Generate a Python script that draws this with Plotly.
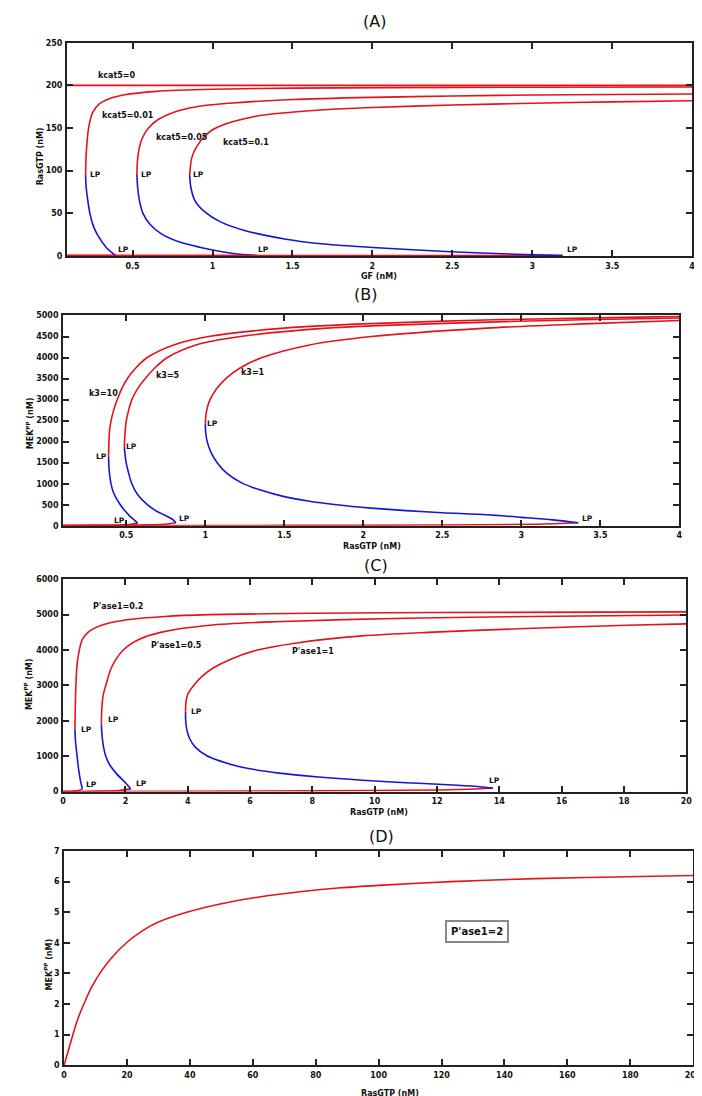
import plotly.graph_objects as go

W, H = 702, 1096
RED = '#e5121a'
BLUE = '#1515d6'
AX = '#222222'
FONT = 'DejaVu Sans'

# ---------------- Panel A data (GF vs RasGTP) ----------------
A_k0_x = [0.09, 4.0]
A_k0_y = [200, 200]

A_k001_up_x = [0.206, 0.21, 0.225, 0.25, 0.29, 0.35, 0.45, 0.65, 1.0, 1.5, 2.5, 4.0]
A_k001_up_y = [95, 120, 150, 168, 178, 184, 189, 193, 195.5, 196.8, 197.7, 198.2]
A_k001_un_x = [0.206, 0.21, 0.22, 0.233, 0.255, 0.28, 0.335, 0.37, 0.398]
A_k001_un_y = [95, 80, 65, 50, 35, 25, 10, 4, 0.5]
A_k001_lo_x = [0.09, 0.398]
A_k001_lo_y = [0.5, 0.5]

A_k005_up_x = [0.527, 0.53, 0.54, 0.56, 0.6, 0.66, 0.75, 0.9, 1.1, 1.5, 2.0, 2.5, 3.0, 4.0]
A_k005_up_y = [95, 110, 125, 138, 150, 160, 168, 175, 179, 183.5, 186, 187.5, 188.8, 190]
A_k005_un_x = [0.527, 0.532, 0.543, 0.565, 0.61, 0.68, 0.8, 0.926, 1.06, 1.17, 1.277]
A_k005_un_y = [95, 80, 65, 50, 37, 26, 16, 10, 5, 2, 0.5]
A_k005_lo_x = [0.09, 1.277]
A_k005_lo_y = [0.5, 0.5]

A_k01_up_x = [0.857, 0.87, 0.9, 0.95, 1.0, 1.1, 1.25, 1.4, 1.7, 2.0, 2.5, 3.0, 3.5, 4.0]
A_k01_up_y = [95, 115, 128, 140, 148, 156, 163, 167, 171.5, 174, 177, 179, 180.7, 182]
A_k01_un_x = [0.857, 0.865, 0.89, 0.95, 1.05, 1.2, 1.45, 1.7, 2.0, 2.49, 2.9, 3.19]
A_k01_un_y = [95, 80, 65, 52, 40, 30, 20, 14, 10, 5, 2, 0.5]
A_k01_lo_x = [0.09, 3.19]
A_k01_lo_y = [0.5, 0.5]

A_labels = ['kcat5=0', 'kcat5=0.01', 'kcat5=0.05', 'kcat5=0.1']

# ---------------- Panel B data (RasGTP vs MEKpp, k3) ----------------
B_k10_up_x = [0.388, 0.39, 0.395, 0.404, 0.42, 0.443, 0.47, 0.507, 0.56, 0.633, 0.8, 1.02, 1.5, 2.0, 2.83, 4.0]
B_k10_up_y = [1650, 2000, 2300, 2500, 2750, 3000, 3250, 3500, 3750, 4000, 4300, 4500, 4700, 4800, 4900, 4980]
B_k10_un_x = [0.388, 0.39, 0.395, 0.403, 0.416, 0.435, 0.46, 0.49, 0.515, 0.54, 0.558, 0.571]
B_k10_un_y = [1650, 1400, 1200, 1000, 820, 660, 510, 360, 260, 170, 110, 63]
B_k10_lo_x = [0.1, 0.3, 0.45, 0.53, 0.571]
B_k10_lo_y = [3, 8, 18, 35, 63]

B_k5_up_x = [0.488, 0.49, 0.5, 0.515, 0.535, 0.57, 0.62, 0.68, 0.76, 0.94, 1.22, 1.77, 2.41, 3.39, 4.0]
B_k5_up_y = [1850, 2100, 2500, 2750, 3000, 3250, 3500, 3750, 4000, 4300, 4500, 4700, 4800, 4900, 4940]
B_k5_un_x = [0.488, 0.492, 0.499, 0.515, 0.535, 0.57, 0.633, 0.69, 0.744, 0.79, 0.814]
B_k5_un_y = [1850, 1700, 1500, 1250, 1000, 750, 500, 350, 250, 160, 70]
B_k5_lo_x = [0.1, 0.4, 0.65, 0.76, 0.814]
B_k5_lo_y = [3, 8, 20, 40, 70]

B_k1_up_x = [1.0, 1.003, 1.012, 1.03, 1.07, 1.13, 1.22, 1.36, 1.66, 2.05, 2.78, 3.39, 4.0]
B_k1_up_y = [2425, 2600, 2800, 3000, 3250, 3500, 3750, 4000, 4300, 4500, 4700, 4800, 4880]
B_k1_un_x = [1.0, 1.003, 1.012, 1.035, 1.075, 1.135, 1.23, 1.34, 1.48, 1.65, 1.83, 2.05, 2.27, 2.5, 2.78, 3.0, 3.2, 3.36]
B_k1_un_y = [2425, 2200, 2000, 1750, 1500, 1250, 1020, 860, 710, 590, 500, 420, 360, 310, 260, 200, 140, 70]
B_k1_lo_x = [0.1, 1.5, 2.5, 3.1, 3.36]
B_k1_lo_y = [2, 8, 18, 35, 70]

B_labels = ['k3=10', 'k3=5', 'k3=1']

# ---------------- Panel C data (RasGTP vs MEKpp, P'ase1) ----------------
C_p02_up_x = [0.38, 0.39, 0.41, 0.45, 0.52, 0.62, 0.8, 1.23, 2.0, 3.27, 4.7, 8.0, 12.0, 20.0]
C_p02_up_y = [1760, 2300, 3000, 3600, 4000, 4300, 4500, 4700, 4850, 4950, 5000, 5040, 5060, 5080]
C_p02_un_x = [0.38, 0.4, 0.45, 0.48, 0.52, 0.57, 0.62]
C_p02_un_y = [1760, 1400, 1000, 750, 500, 250, 75]
C_p02_lo_x = [0.0, 0.3, 0.5, 0.62]
C_p02_lo_y = [0, 10, 30, 75]

C_p05_up_x = [1.23, 1.24, 1.28, 1.37, 1.55, 1.93, 2.43, 3.13, 4.69, 6.8, 11.0, 15.0, 20.0]
C_p05_up_y = [1900, 2300, 2700, 3000, 3500, 4000, 4300, 4500, 4700, 4800, 4900, 4950, 4990]
C_p05_un_x = [1.23, 1.24, 1.26, 1.3, 1.37, 1.5, 1.72, 2.0, 2.1, 2.17]
C_p05_un_y = [1900, 1700, 1500, 1250, 1000, 750, 500, 250, 150, 75]
C_p05_lo_x = [0.0, 1.0, 1.8, 2.17]
C_p05_lo_y = [0, 10, 30, 75]

C_p1_up_x = [3.93, 3.94, 4.0, 4.19, 4.45, 4.83, 5.4, 6.24, 7.5, 9.6, 11.7, 14.6, 18.1, 20.0]
C_p1_up_y = [2250, 2500, 2750, 3000, 3250, 3500, 3750, 4000, 4200, 4400, 4500, 4600, 4700, 4740]
C_p1_un_x = [3.93, 3.935, 3.97, 4.06, 4.25, 4.6, 5.05, 5.67, 6.94, 8.2, 9.6, 11.0, 12.2, 13.2, 13.8]
C_p1_un_y = [2250, 2000, 1750, 1500, 1250, 1020, 860, 700, 520, 410, 320, 250, 200, 150, 94]
C_p1_lo_x = [0.0, 4.0, 8.0, 12.0, 13.8]
C_p1_lo_y = [0, 8, 20, 45, 94]

C_labels = ["P'ase1=0.2", "P'ase1=0.5", "P'ase1=1"]

# ---------------- Panel D data ----------------
D_x = [0, 1, 2.8, 4.5, 6.5, 9, 12, 15, 20, 25, 30, 39, 50, 62, 75, 88, 100, 123, 150, 175, 200]
D_y = [0, 0.35, 1.0, 1.55, 2.05, 2.6, 3.1, 3.5, 4.02, 4.4, 4.68, 5.0, 5.28, 5.5, 5.67, 5.8, 5.88, 6.0, 6.1, 6.15, 6.2]
D_label = "P'ase1=2"

# ---------------- helpers ----------------
def px_x(p):
    return p / W

def px_y(p):
    return 1 - p / H

fig = go.Figure()

def line(x, y, color, ax):
    fig.add_trace(go.Scatter(x=x, y=y, mode='lines', xaxis='x' + ax, yaxis='y' + ax,
                             line=dict(color=color, width=1.6, shape='spline', smoothing=0.8),
                             showlegend=False, hoverinfo='skip'))

def branch(up, un, lo, ax):
    line(lo[0], lo[1], RED, ax)
    line(up[0], up[1], RED, ax)
    line(un[0], un[1], BLUE, ax)

# Panel A (axis suffix '')
line(A_k0_x, A_k0_y, RED, '')
branch((A_k001_up_x, A_k001_up_y), (A_k001_un_x, A_k001_un_y), (A_k001_lo_x, A_k001_lo_y), '')
branch((A_k005_up_x, A_k005_up_y), (A_k005_un_x, A_k005_un_y), (A_k005_lo_x, A_k005_lo_y), '')
branch((A_k01_up_x, A_k01_up_y), (A_k01_un_x, A_k01_un_y), (A_k01_lo_x, A_k01_lo_y), '')

# Panel B
branch((B_k10_up_x, B_k10_up_y), (B_k10_un_x, B_k10_un_y), (B_k10_lo_x, B_k10_lo_y), '2')
branch((B_k5_up_x, B_k5_up_y), (B_k5_un_x, B_k5_un_y), (B_k5_lo_x, B_k5_lo_y), '2')
branch((B_k1_up_x, B_k1_up_y), (B_k1_un_x, B_k1_un_y), (B_k1_lo_x, B_k1_lo_y), '2')

# Panel C
branch((C_p02_up_x, C_p02_up_y), (C_p02_un_x, C_p02_un_y), (C_p02_lo_x, C_p02_lo_y), '3')
branch((C_p05_up_x, C_p05_up_y), (C_p05_un_x, C_p05_un_y), (C_p05_lo_x, C_p05_lo_y), '3')
branch((C_p1_up_x, C_p1_up_y), (C_p1_un_x, C_p1_un_y), (C_p1_lo_x, C_p1_lo_y), '3')

# Panel D
line(D_x, D_y, RED, '4')

tickfont = dict(family=FONT, size=8, color='#111', weight='bold')

def axis(domain, rng, dtick, tick0=0):
    return dict(domain=domain, range=rng, dtick=dtick, tick0=tick0, showline=True,
                linecolor=AX, linewidth=2, mirror='ticks', ticks='inside', ticklen=6,
                tickwidth=1.5, tickcolor=AX, showgrid=False, zeroline=False,
                tickfont=tickfont, ticklabelstandoff=1)

fig.update_layout(
    width=W, height=H, margin=dict(l=0, r=0, t=0, b=0),
    paper_bgcolor='white', plot_bgcolor='white',
    xaxis=dict(axis([px_x(57), px_x(693)], [0.09, 4], 0.5), anchor='y'),
    yaxis=dict(axis([px_y(246), px_y(31)], [0, 250], 50), anchor='x'),
    xaxis2=dict(axis([px_x(53), px_x(680)], [0.1, 4], 0.5), anchor='y2'),
    yaxis2=dict(axis([px_y(518), px_y(306)], [0, 5000], 500), anchor='x2'),
    xaxis3=dict(axis([px_x(53), px_x(687)], [0, 20], 2), anchor='y3'),
    yaxis3=dict(axis([px_y(786), px_y(572)], [0, 6000], 1000), anchor='x3'),
    xaxis4=dict(axis([px_x(54), px_x(694)], [0, 200], 20), anchor='y4'),
    yaxis4=dict(axis([px_y(1062), px_y(846)], [0, 7], 1), anchor='x4'),
)

ann = []

def ptext(text, x, y, size=8, angle=0, weight='bold'):
    ann.append(dict(text=text, x=px_x(x), y=px_y(y), xref='paper', yref='paper',
                    showarrow=False, textangle=angle, xanchor='center', yanchor='middle',
                    font=dict(family=FONT, size=size, color='#111', weight=weight)))

def dtext(text, x, y, ax, size=8):
    ann.append(dict(text=text, x=x, y=y, xref='x' + ax, yref='y' + ax, showarrow=False,
                    xanchor='center', yanchor='middle',
                    font=dict(family=FONT, size=size, color='#111', weight='bold')))

# Panel titles
ptext('(A)', 370, 10, size=16, weight='normal')
ptext('(B)', 361, 285, size=16, weight='normal')
ptext('(C)', 371, 558, size=16, weight='normal')
ptext('(D)', 377, 831, size=16, weight='normal')

# Axis titles
ptext('GF (nM)', 374, 267)
ptext('RasGTP (nM)', 30, 145, angle=-90)
ptext('RasGTP (nM)', 367, 539)
ptext('MEK<sup>PP</sup> (nM)', 19, 415, angle=-90)
ptext('RasGTP (nM)', 374, 807)
ptext('MEK<sup>PP</sup> (nM)', 18, 678, angle=-90)
ptext('RasGTP (nM)', 386, 1090)
ptext('MEK<sup>PP</sup> (nM)', 38, 960, angle=-90)

# Panel A labels
dtext(A_labels[0], 0.404, 212, '')
dtext(A_labels[1], 0.472, 165, '')
dtext(A_labels[2], 0.81, 139, '')
dtext(A_labels[3], 1.21, 133, '')
for lx, ly in [(0.27, 95), (0.585, 95), (0.91, 95), (0.445, 8), (1.32, 8), (3.25, 8)]:
    dtext('LP', lx, ly, '', size=7.5)

# Panel B labels
dtext(B_labels[0], 0.354, 3142, '2')
dtext(B_labels[1], 0.766, 3567, '2')
dtext(B_labels[2], 1.3, 3638, '2')
for lx, ly in [(0.34, 1654), (0.535, 1874), (1.045, 2425), (0.46, 134), (0.87, 181), (3.42, 181)]:
    dtext('LP', lx, ly, '2', size=7.5)

# Panel C labels
dtext(C_labels[0], 1.76, 5223, '3')
dtext(C_labels[1], 3.63, 4137, '3')
dtext(C_labels[2], 8.03, 3950, '3')
for lx, ly in [(0.76, 1760), (1.62, 2040), (4.29, 2256), (0.9, 197), (2.53, 215), (13.86, 309)]:
    dtext('LP', lx, ly, '3', size=7.5)

# Panel D label box
ann.append(dict(text=D_label, x=131.4, y=4.36, xref='x4', yref='y4', showarrow=False,
                xanchor='center', yanchor='middle', bordercolor='#888888', borderwidth=2,
                borderpad=4, bgcolor='white',
                font=dict(family=FONT, size=10, color='#111', weight='bold')))

fig.update_layout(annotations=ann)
fig.write_html('out.html')
